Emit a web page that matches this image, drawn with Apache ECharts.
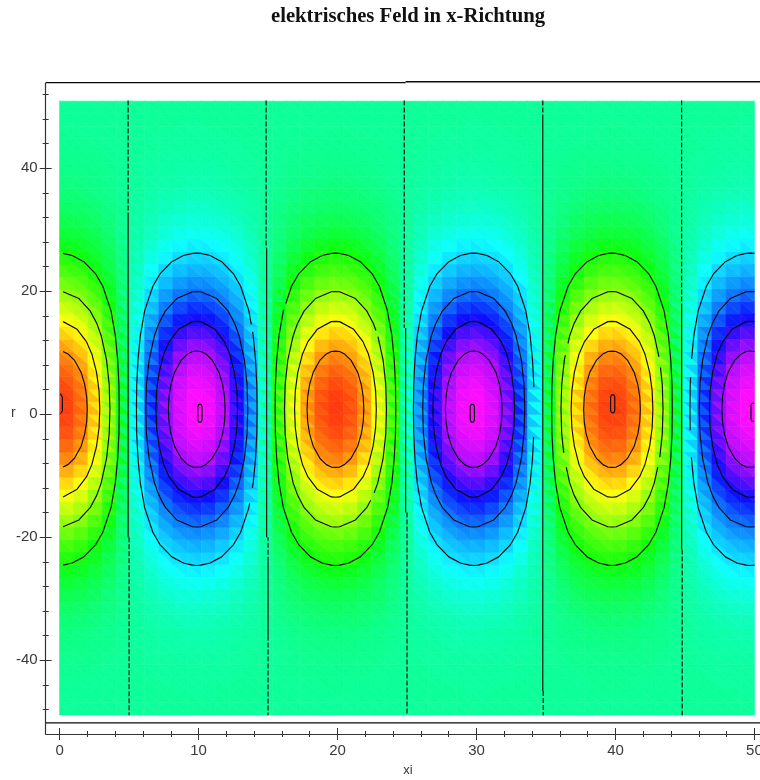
<!DOCTYPE html>
<html>
<head>
<meta charset="utf-8">
<style>html,body{margin:0;padding:0;background:#fff;overflow:hidden}#c{width:760px;height:780px}</style>
<script src="https://cdn.jsdelivr.net/npm/echarts@6/dist/echarts.min.js"></script>
</head>
<body>
<div id="c"></div>
<script>
// Field readings in percent of the peak value, one list per grid row, named by distance from the centre row.
const rowD01=[100,95,80,57,28,-4,-35,-63,-85,-97,-100,-92,-75,-50,-20,12,43,69,89,99,99,89,69,43,12,-20,-50,-75,-92,-100,-97,-85,-63,-35,-4,28,57,80,95,100,95,80,57,28,-4,-35,-63,-85,-97,-100];
const rowD03=[98,93,78,56,27,-4,-34,-62,-83,-95,-98,-90,-73,-49,-20,12,42,67,87,97,97,87,67,42,12,-20,-49,-73,-90,-98,-95,-83,-62,-34,-4,27,56,78,93,98,93,78,56,27,-4,-34,-62,-83,-95,-98];
const rowD05=[94,89,75,53,26,-4,-33,-59,-80,-91,-94,-86,-70,-47,-19,11,40,65,83,93,93,83,65,40,11,-19,-47,-70,-86,-94,-91,-80,-59,-33,-4,26,53,75,89,94,89,75,53,26,-4,-33,-59,-80,-91,-94];
const rowD07=[88,84,70,50,25,-4,-31,-55,-75,-85,-88,-81,-66,-44,-18,11,38,61,78,87,87,78,61,38,11,-18,-44,-66,-81,-88,-85,-75,-55,-31,-4,25,50,70,84,88,84,70,50,25,-4,-31,-55,-75,-85,-88];
const rowD09=[81,77,65,46,23,-3,-28,-51,-69,-79,-81,-75,-61,-41,-16,10,35,56,72,80,80,72,56,35,10,-16,-41,-61,-75,-81,-79,-69,-51,-28,-3,23,46,65,77,81,77,65,46,23,-3,-28,-51,-69,-79,-81];
const rowD11=[73,69,58,42,20,-3,-26,-46,-62,-71,-73,-67,-55,-37,-15,9,31,50,65,72,72,65,50,31,9,-15,-37,-55,-67,-73,-71,-62,-46,-26,-3,20,42,58,69,73,69,58,42,20,-3,-26,-46,-62,-71,-73];
const rowD13=[64,61,52,37,18,-3,-23,-41,-55,-62,-64,-59,-48,-32,-13,8,28,44,57,64,64,57,44,28,8,-13,-32,-48,-59,-64,-62,-55,-41,-23,-3,18,37,52,61,64,61,52,37,18,-3,-23,-41,-55,-62,-64];
const rowD15=[56,53,45,32,16,-2,-19,-35,-47,-54,-56,-51,-42,-28,-11,7,24,38,50,55,55,50,38,24,7,-11,-28,-42,-51,-56,-54,-47,-35,-19,-2,16,32,45,53,56,53,45,32,16,-2,-19,-35,-47,-54,-56];
const rowD17=[47,45,38,27,13,-2,-16,-30,-40,-46,-47,-43,-35,-24,-9,6,20,32,42,47,47,42,32,20,6,-9,-24,-35,-43,-47,-46,-40,-30,-16,-2,13,27,38,45,47,45,38,27,13,-2,-16,-30,-40,-46,-47];
const rowD19=[39,37,31,22,11,-2,-14,-25,-33,-38,-39,-36,-29,-20,-8,5,17,27,35,39,39,35,27,17,5,-8,-20,-29,-36,-39,-38,-33,-25,-14,-2,11,22,31,37,39,37,31,22,11,-2,-14,-25,-33,-38,-39];
const rowD21=[32,30,25,18,9,-1,-11,-20,-27,-31,-32,-29,-24,-16,-6,4,14,22,28,31,31,28,22,14,4,-6,-16,-24,-29,-32,-31,-27,-20,-11,-1,9,18,25,30,32,30,25,18,9,-1,-11,-20,-27,-31,-32];
const rowD23=[25,24,20,14,7,-1,-9,-16,-21,-24,-25,-23,-19,-13,-5,3,11,17,22,25,25,22,17,11,3,-5,-13,-19,-23,-25,-24,-21,-16,-9,-1,7,14,20,24,25,24,20,14,7,-1,-9,-16,-21,-24,-25];
const rowD25=[20,19,16,11,6,-1,-7,-12,-17,-19,-20,-18,-15,-10,-4,2,8,14,18,20,20,18,14,8,2,-4,-10,-15,-18,-20,-19,-17,-12,-7,-1,6,11,16,19,20,19,16,11,6,-1,-7,-12,-17,-19,-20];
const rowD27=[15,14,12,9,4,-1,-5,-9,-13,-15,-15,-14,-11,-8,-3,2,6,10,13,15,15,13,10,6,2,-3,-8,-11,-14,-15,-15,-13,-9,-5,-1,4,9,12,14,15,14,12,9,4,-1,-5,-9,-13,-15,-15];
const rowD29=[11,11,9,6,3,0,-4,-7,-10,-11,-11,-10,-8,-6,-2,1,5,8,10,11,11,10,8,5,1,-2,-6,-8,-10,-11,-11,-10,-7,-4,0,3,6,9,11,11,11,9,6,3,0,-4,-7,-10,-11,-11];
const rowD31=[8,8,7,5,2,0,-3,-5,-7,-8,-8,-8,-6,-4,-2,1,4,6,7,8,8,7,6,4,1,-2,-4,-6,-8,-8,-8,-7,-5,-3,0,2,5,7,8,8,8,7,5,2,0,-3,-5,-7,-8,-8];
const rowD33=[6,6,5,3,2,0,-2,-4,-5,-6,-6,-5,-4,-3,-1,1,3,4,5,6,6,5,4,3,1,-1,-3,-4,-5,-6,-6,-5,-4,-2,0,2,3,5,6,6,6,5,3,2,0,-2,-4,-5,-6,-6];
const rowD35=[4,4,3,2,1,0,-1,-3,-3,-4,-4,-4,-3,-2,-1,0,2,3,4,4,4,4,3,2,0,-1,-2,-3,-4,-4,-4,-3,-3,-1,0,1,2,3,4,4,4,3,2,1,0,-1,-3,-3,-4,-4];
const rowD37=[3,3,2,2,1,0,-1,-2,-2,-3,-3,-3,-2,-1,-1,0,1,2,2,3,3,2,2,1,0,-1,-1,-2,-3,-3,-3,-2,-2,-1,0,1,2,2,3,3,3,2,2,1,0,-1,-2,-2,-3,-3];
const rowD39=[2,2,2,1,1,0,-1,-1,-2,-2,-2,-2,-1,-1,0,0,1,1,2,2,2,2,1,1,0,0,-1,-1,-2,-2,-2,-2,-1,-1,0,1,1,2,2,2,2,2,1,1,0,-1,-1,-2,-2,-2];
const rowD41=[1,1,1,1,0,0,0,-1,-1,-1,-1,-1,-1,-1,0,0,1,1,1,1,1,1,1,1,0,0,-1,-1,-1,-1,-1,-1,-1,0,0,0,1,1,1,1,1,1,1,0,0,0,-1,-1,-1,-1];
const rowD43=[1,1,1,0,0,0,0,-1,-1,-1,-1,-1,-1,0,0,0,0,1,1,1,1,1,1,0,0,0,0,-1,-1,-1,-1,-1,-1,0,0,0,0,1,1,1,1,1,0,0,0,0,-1,-1,-1,-1];
const rowD45=[1,0,0,0,0,0,0,0,0,-1,-1,0,0,0,0,0,0,0,0,1,1,0,0,0,0,0,0,0,0,-1,-1,0,0,0,0,0,0,0,1,1,1,0,0,0,0,0,0,0,-1,-1];
const rowD47=[0,0,0,0,0,0,0,0,0,0,0,0,0,0,0,0,0,0,0,0,0,0,0,0,0,0,0,0,0,0,0,0,0,0,0,0,0,0,0,0,0,0,0,0,0,0,0,0,0,0];
const rowD49=[0,0,0,0,0,0,0,0,0,0,0,0,0,0,0,0,0,0,0,0,0,0,0,0,0,0,0,0,0,0,0,0,0,0,0,0,0,0,0,0,0,0,0,0,0,0,0,0,0,0];
// Rows from the bottom of the plot to the top.
const fieldRows=[rowD49,rowD47,rowD45,rowD43,rowD41,rowD39,rowD37,rowD35,rowD33,rowD31,rowD29,rowD27,rowD25,rowD23,rowD21,rowD19,rowD17,rowD15,rowD13,rowD11,rowD09,rowD07,rowD05,rowD03,rowD01,
                 rowD01,rowD03,rowD05,rowD07,rowD09,rowD11,rowD13,rowD15,rowD17,rowD19,rowD21,rowD23,rowD25,rowD27,rowD29,rowD31,rowD33,rowD35,rowD37,rowD39,rowD41,rowD43,rowD45,rowD47,rowD49];
const gridXi=[0,1.02,2.04,3.06,4.08,5.1,6.12,7.14,8.16,9.18,10.2,11.22,12.24,13.27,14.29,15.31,16.33,17.35,18.37,19.39,20.41,21.43,22.45,23.47,24.49,25.51,26.53,27.55,28.57,29.59,30.61,31.63,32.65,33.67,34.69,35.71,36.73,37.76,38.78,39.8,40.82,41.84,42.86,43.88,44.9,45.92,46.94,47.96,48.98,50];
const gridR=[-48.9,-46.86,-44.83,-42.79,-40.75,-38.72,-36.68,-34.64,-32.61,-30.57,-28.53,-26.5,-24.46,-22.42,-20.39,-18.35,-16.31,-14.28,-12.24,-10.2,-8.17,-6.13,-4.09,-2.06,-0.02,2.02,4.06,6.09,8.13,10.17,12.2,14.24,16.28,18.31,20.35,22.39,24.42,26.46,28.5,30.53,32.57,34.61,36.64,38.68,40.72,42.75,44.79,46.83,48.86,50.9];

// Contour outlines: [half width in xi, half height in r] for one quarter.
const contour20=[[4.34,0],[4.32,4],[4.23,8],[4.06,12],[3.75,16],[3.16,20],[2.65,22],[1.79,24],[0.96,25],[0.3,25.35],[0,25.4]];
const contour40=[[3.67,0],[3.62,4],[3.43,8],[3.04,12],[2.72,14],[2.25,16],[1.44,18],[0.3,19.1],[0,19.14]];
const contour60=[[2.94,0],[2.89,3],[2.71,6],[2.37,9],[1.98,11],[1.31,13],[0.3,14.25],[0,14.3]];
const contour80=[[2.04,0],[2,2],[1.86,4],[1.6,6],[1.11,8],[0.65,9],[0.3,9.4],[0,9.45]];
const contourPeak=[[0.15,0],[0.15,1.1],[0.08,1.45],[0,1.6]];
const lobeXi=[-0.05,9.87,19.85,29.8,39.75,49.7];
const lobeR=0.8;
const peakXi=[0.05,10.1,29.7,39.8,49.9];
const peakR=[1.7,0.15,0.15,1.7,0.3];
// Breaks in the contours: [lobe, level, side (1 right, -1 left), r low, r high].
const contourBreaks=[[1,0,1,13.4,14.6],[1,0,1,-14.5,-12],[2,0,-1,17,18],[2,1,1,12.6,13.6],[2,1,1,-14,-12.8],[3,0,1,-3.7,4.4],
  [4,1,-1,9.6,11.5],[4,1,-1,-8.6,-6.3],[4,1,1,7.6,9.3],[4,1,1,-8.6,-7],[5,0,-1,6,9],[5,0,-1,-7,-2.6]];
// Zero lines: [xi, r from, r to] for the ragged, dashed-looking and the clean parts.
const zeroDashed=[[4.93,51,32.7],[5.0,-20,-49],[14.86,51,27],[15,-24,-20],[15,-36,-49],[24.8,51,14],[25,-16,-49],[34.77,51,48],[34.8,-45,-49],[44.76,51,18],[44.8,-22,-49]];
const zeroSolid=[[4.93,32.7,-20],[14.9,27,-20],[15,-24,-36],[24.9,14,-16],[34.77,48,-45],[44.76,18,-22]];

const xLabels=[0,10,20,30,40,50];
const xMinor=[2,4,6,8,12,14,16,18,22,24,26,28,32,34,36,38,42,44,46,48];
const yLabels=[-40,-20,0,20,40];
const yMinor=[-48,-44,-36,-32,-28,-24,-16,-12,-8,-4,4,8,12,16,24,28,32,36,44,48,52];
const titleText='elektrisches Feld in x-Richtung';
const frameTopLeft=[[-1,53.9],[24.9,53.9]];
const frameTopRight=[[24.9,54.05],[50.4,54.05]];
const frameInner=[[-1,-50.2],[50.4,-50.2]];
// Colour scale: field percent and the hue at that level.
const scalePercent=[-100,-80,-60,-40,-20,0,20,40,60,80,100];
const scaleHue=[302,280,245,215,188,155,118,88,60,33,10];

function hsv(h,s,v){const f=n=>{const k=(n+h/60)%6;return Math.round(255*(v-v*s*Math.max(0,Math.min(k,4-k,1))));};return `rgb(${f(5)},${f(3)},${f(1)})`;}
function colorOf(p){
  let k=0; while(k<scalePercent.length-2&&p>scalePercent[k+1])k++;
  const t=(p-scalePercent[k])/(scalePercent[k+1]-scalePercent[k]);
  return hsv(scaleHue[k]+t*(scaleHue[k+1]-scaleHue[k]),0.95,1);
}

const triangles=[];
for(let j=0;j<gridR.length-1;j++){for(let i=0;i<gridXi.length-1;i++){
  const a=fieldRows[j][i],b=fieldRows[j][i+1],c=fieldRows[j+1][i],d=fieldRows[j+1][i+1];
  triangles.push([gridXi[i],gridR[j],gridXi[i+1],gridR[j],gridXi[i],gridR[j+1],(a+b+c)/3]);
  triangles.push([gridXi[i+1],gridR[j+1],gridXi[i],gridR[j+1],gridXi[i+1],gridR[j],(d+c+b)/3]);
}}

function closedPath(shape,cx,cy,fromRight){
  const q=shape, rev=[...shape].reverse();
  const leftUp=q.map(p=>[cx-p[0],cy+p[1]]);
  const rightDown=rev.map(p=>[cx+p[0],cy+p[1]]);
  const rightLow=q.map(p=>[cx+p[0],cy-p[1]]);
  const leftLow=rev.map(p=>[cx-p[0],cy-p[1]]);
  const fromL=[...leftUp,...rightDown,...rightLow,...leftLow];
  const fromR=[...rightLow,...leftLow,...leftUp,...rightDown];
  return (fromRight?fromR:fromL).filter(p=>p[0]>=0&&p[0]<=50);
}
// Cut a contour where the picture shows a break in it.
function splitPath(path,cx,breaks){
  const parts=[[path[0]]];
  for(let n=0;n<path.length-1;n++){
    const p=path[n],q=path[n+1];
    const at=t=>[p[0]+t*(q[0]-p[0]),p[1]+t*(q[1]-p[1])];
    const ts=[0,1];
    breaks.forEach(b=>[b[3],b[4]].forEach(r=>{const t=(r-p[1])/(q[1]-p[1]);if(t>0&&t<1)ts.push(t);}));
    ts.sort((u,v)=>u-v);
    for(let m=0;m<ts.length-1;m++){
      const mid=at((ts[m]+ts[m+1])/2);
      const hidden=breaks.some(b=>Math.sign(mid[0]-cx)===b[2]&&mid[1]>b[3]&&mid[1]<b[4]);
      const cur=parts[parts.length-1];
      if(hidden){ if(cur.length) parts.push([]); }
      else { if(!cur.length) cur.push(at(ts[m])); cur.push(at(ts[m+1])); }
    }
  }
  return parts.filter(a=>a.length>1);
}
const lineSeries=(data,dash,w)=>({type:'line',data,xAxisIndex:0,yAxisIndex:0,symbol:'none',silent:true,animation:false,clip:false,z:5,
  lineStyle:{color:'#0b0b0b',width:w||1.15,type:dash||'solid'},connectNulls:false});

const series=[{type:'custom',coordinateSystem:'cartesian2d',xAxisIndex:0,yAxisIndex:0,silent:true,animation:false,z:1,clip:false,progressive:0,
  data:triangles,encode:{x:[0,2,4],y:[1,3,5]},
  renderItem(params,api){
    const p=[api.coord([api.value(0),api.value(1)]),api.coord([api.value(2),api.value(3)]),api.coord([api.value(4),api.value(5)])];
    const col=colorOf(api.value(6));
    return {type:'polygon',shape:{points:p},style:{fill:col,stroke:col,lineWidth:0.6}};
  }}];
[contour20,contour40,contour60,contour80].forEach((sh,level)=>{
  lobeXi.forEach((cx,k)=>{
    const path=closedPath(sh,cx,lobeR,k===lobeXi.length-1);
    const breaks=contourBreaks.filter(b=>b[0]===k&&b[1]===level);
    splitPath(path,cx,breaks).forEach(part=>series.push(lineSeries(part)));
  });
});
peakXi.forEach((cx,k)=>series.push(lineSeries(closedPath(contourPeak,cx,peakR[k],k===peakXi.length-1))));
zeroDashed.forEach(z=>series.push(lineSeries([[z[0],z[1]],[z[0],z[2]]],[5,2])));
zeroSolid.forEach(z=>series.push(lineSeries([[z[0],z[1]],[z[0],z[2]]])));
series.push(lineSeries(frameTopLeft,'solid',1.2),lineSeries(frameTopRight,'solid',1.4),lineSeries(frameInner,'solid',1.2));

const axisColor='#333';
const axisBase={type:'value',splitLine:{show:false}};
function xAx(values,len,inside,main){return {...axisBase,min:-1,max:50.4,position:'bottom',
  axisLine:{show:!!main,onZero:false,lineStyle:{color:axisColor,width:1.2}},
  axisTick:{show:true,customValues:values,length:len,inside,lineStyle:{color:axisColor,width:1}},
  axisLabel:main?{show:true,customValues:xLabels,margin:9,color:'#3a3a3a',fontFamily:'Liberation Sans',fontSize:15,hideOverlap:false}:{show:false},
  ...(main?{name:'xi',nameLocation:'middle',nameGap:30,nameTextStyle:{color:'#3a3a3a',fontFamily:'Liberation Sans',fontSize:13,padding:[0,0,0,10]}}:{})};}
function yAx(values,len,inside,main){return {...axisBase,min:-52,max:53.85,position:'left',
  axisLine:{show:!!main,onZero:false,lineStyle:{color:axisColor,width:1.2}},
  axisTick:{show:true,customValues:values,length:len,inside,lineStyle:{color:axisColor,width:1}},
  axisLabel:main?{show:true,customValues:yLabels,margin:8,color:'#3a3a3a',fontFamily:'Liberation Sans',fontSize:15}:{show:false}};}

const chart=echarts.init(document.getElementById('c'),null,{renderer:'canvas',width:760,height:780});
chart.setOption({
  animation:false,backgroundColor:'#fff',
  title:{text:titleText,left:266,top:1,textStyle:{fontFamily:'Liberation Serif',fontWeight:'bold',fontSize:20.7,color:'#111'}},
  grid:{left:45.7,top:83,width:714.3,height:651,containLabel:false,outerBoundsMode:'none'},
  xAxis:[xAx(xLabels,6,false,true),xAx(xMinor,3,false),xAx(xLabels,6,true),xAx(xMinor,3,true)],
  yAxis:[yAx(yLabels,6,false,true),yAx(yMinor,3,false),yAx(yLabels,6,true),yAx(yMinor,3,true)],
  graphic:[{type:'text',left:11,top:406,style:{text:'r',fill:'#3a3a3a',font:'14px "Liberation Sans"'}}],
  series
});
</script>
</body>
</html>
